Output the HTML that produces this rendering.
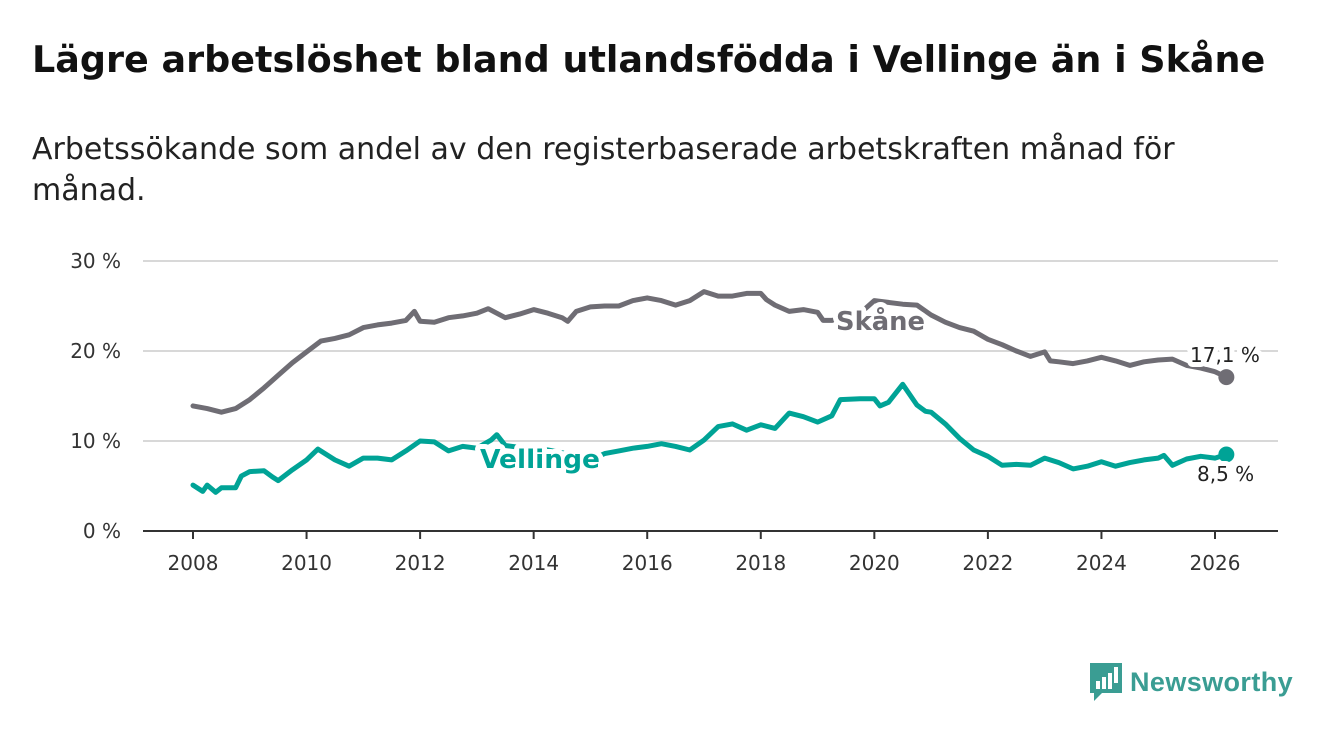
<!DOCTYPE html>
<html><head><meta charset="utf-8"><style>
body{margin:0;width:1340px;height:734px;background:#fff;font-family:"DejaVu Sans","Liberation Sans",sans-serif;overflow:hidden;position:relative}
h1{position:absolute;left:32px;top:38px;margin:0;font-size:36.5px;font-weight:bold;color:#111;white-space:nowrap}
p.sub{position:absolute;left:32px;top:129px;margin:0;font-size:30px;line-height:41px;color:#222;width:1230px}
svg{position:absolute;left:0;top:0}
</style></head><body>
<h1>Lägre arbetslöshet bland utlandsfödda i Vellinge än i Skåne</h1>
<p class="sub">Arbetssökande som andel av den registerbaserade arbetskraften månad för månad.</p>
<svg id="chart" width="1340" height="734"></svg>
<div style="position:absolute;left:1088px;top:660px;height:44px;display:flex;align-items:center">
 <svg width="36" height="42" style="position:static"><path d="M2 2h32v30h-20l-8 8v-8h-4z" fill="#3a9d93"/><rect x="8" y="20" width="4" height="8" fill="#fff"/><rect x="14" y="16" width="4" height="12" fill="#fff"/><rect x="20" y="12" width="4" height="16" fill="#fff"/><rect x="26" y="6" width="4" height="16" fill="#fff"/></svg>
 <span style="font-size:27px;color:#3a9d93;margin-left:6px;font-weight:bold;font-family:'Liberation Sans',sans-serif;letter-spacing:0.4px">Newsworthy</span>
</div>
<script>
const years=[2008,2010,2012,2014,2016,2018,2020,2022,2024,2026];
const yTicks=[0,10,20,30];
const skaneDates=[2008,2008.25,2008.5,2008.75,2009,2009.25,2009.5,2009.75,2010,2010.25,2010.5,2010.75,2011,2011.25,2011.5,2011.75,2011.9,2012,2012.25,2012.5,2012.75,2013,2013.2,2013.5,2013.75,2014,2014.25,2014.5,2014.6,2014.75,2015,2015.25,2015.5,2015.75,2016,2016.25,2016.5,2016.75,2017,2017.25,2017.5,2017.75,2018,2018.1,2018.25,2018.5,2018.75,2019,2019.1,2019.25,2019.5,2019.75,2020,2020.25,2020.5,2020.75,2021,2021.25,2021.5,2021.75,2022,2022.25,2022.5,2022.75,2023,2023.1,2023.25,2023.5,2023.75,2024,2024.25,2024.5,2024.75,2025,2025.25,2025.5,2025.75,2026,2026.2];
const skaneValues=[13.9,13.6,13.2,13.6,14.6,15.9,17.3,18.7,19.9,21.1,21.4,21.8,22.6,22.9,23.1,23.4,24.4,23.3,23.2,23.7,23.9,24.2,24.7,23.7,24.1,24.6,24.2,23.7,23.3,24.4,24.9,25.0,25.0,25.6,25.9,25.6,25.1,25.6,26.6,26.1,26.1,26.4,26.4,25.7,25.1,24.4,24.6,24.3,23.4,23.4,23.6,24.2,25.6,25.4,25.2,25.1,24.0,23.2,22.6,22.2,21.3,20.7,20.0,19.4,19.9,18.9,18.8,18.6,18.9,19.3,18.9,18.4,18.8,19.0,19.1,18.4,18.1,17.7,17.1];
const vellDates=[2008,2008.17,2008.25,2008.4,2008.5,2008.75,2008.85,2009,2009.25,2009.4,2009.5,2009.75,2010,2010.2,2010.5,2010.75,2011,2011.25,2011.5,2011.75,2012,2012.25,2012.5,2012.75,2013,2013.25,2013.35,2013.5,2013.75,2014,2014.25,2014.5,2014.75,2015,2015.25,2015.5,2015.75,2016,2016.25,2016.5,2016.75,2017,2017.25,2017.5,2017.75,2018,2018.25,2018.5,2018.75,2019,2019.25,2019.4,2019.75,2020,2020.1,2020.25,2020.5,2020.75,2020.9,2021,2021.25,2021.5,2021.75,2022,2022.25,2022.5,2022.75,2023,2023.25,2023.5,2023.75,2024,2024.25,2024.5,2024.75,2025,2025.1,2025.25,2025.5,2025.75,2026,2026.2];
const vellValues=[5.1,4.4,5.1,4.3,4.8,4.8,6.1,6.6,6.7,6.0,5.6,6.8,7.9,9.1,7.9,7.2,8.1,8.1,7.9,8.9,10.0,9.9,8.9,9.4,9.2,10.1,10.7,9.5,9.3,9.2,9.0,8.7,8.4,7.9,8.6,8.9,9.2,9.4,9.7,9.4,9.0,10.1,11.6,11.9,11.2,11.8,11.4,13.1,12.7,12.1,12.8,14.6,14.7,14.7,13.9,14.3,16.3,14.0,13.3,13.2,11.9,10.3,9.0,8.3,7.3,7.4,7.3,8.1,7.6,6.9,7.2,7.7,7.2,7.6,7.9,8.1,8.4,7.3,8.0,8.3,8.1,8.5];
const NS="http://www.w3.org/2000/svg";
const svg=document.getElementById('chart');
const X=t=>193+(t-2008)*(1215-193)/18;
const Y=v=>531-v*9;
const FF='DejaVu Sans, Liberation Sans, sans-serif';
function mk(tag,attrs,parent){const e=document.createElementNS(NS,tag);for(const k in attrs)e.setAttribute(k,attrs[k]);(parent||svg).appendChild(e);return e;}
yTicks.forEach(v=>{
  const l=mk('line',{x1:143,x2:1278,y1:Y(v),y2:Y(v),stroke:v===0?'#333':'#d8d8d8','stroke-width':2});
  
  
  const t=mk('text',{x:121,y:Y(v)+7,'text-anchor':'end','font-size':20,fill:'#333','font-family':FF});
  t.textContent=v+' %';
  
  
});
years.forEach(yr=>{
  const tk=mk('line',{x1:X(yr),x2:X(yr),y1:531,y2:539,stroke:'#333','stroke-width':2});
  
  
  const t=mk('text',{x:X(yr),y:570,'text-anchor':'middle','font-size':20,fill:'#333','font-family':FF});
  t.textContent=yr;
  
  
});
function line(d,v,color,name){
  const p=mk('path',{d:d.map((t,i)=>(i?'L':'M')+X(t).toFixed(1)+' '+Y(v[i]).toFixed(1)).join(''),fill:'none',stroke:color,'stroke-width':5,'stroke-linejoin':'round','stroke-linecap':'round'});
  
  
  const c=mk('circle',{cx:X(d[d.length-1]),cy:Y(v[v.length-1]),r:8,fill:color});
  
  
}
line(skaneDates,skaneValues,'#6f6d74','skane');
line(vellDates,vellValues,'#00a396','vellinge');
function label(x,y,txt,color,name,size,bold,len){
  const a={x:x,y:y,'font-size':size,fill:color,'font-weight':bold?'bold':'normal',stroke:'#fff','stroke-width':10,'paint-order':'stroke','stroke-linejoin':'round','font-family':FF};
  if(len){a.textLength=len;a.lengthAdjust='spacingAndGlyphs';}
  const t=mk('text',a);
  t.textContent=txt;
  
  
}
label(836,330,'Skåne','#6f6d74','skane-label',26,true,89);
label(480,468,'Vellinge','#00a396','vellinge-label',26,true,120);
label(1190,362,'17,1 %','#222','skane-end-value',20,false);
label(1197,481,'8,5 %','#222','vellinge-end-value',20,false);
</script>
</body></html>
